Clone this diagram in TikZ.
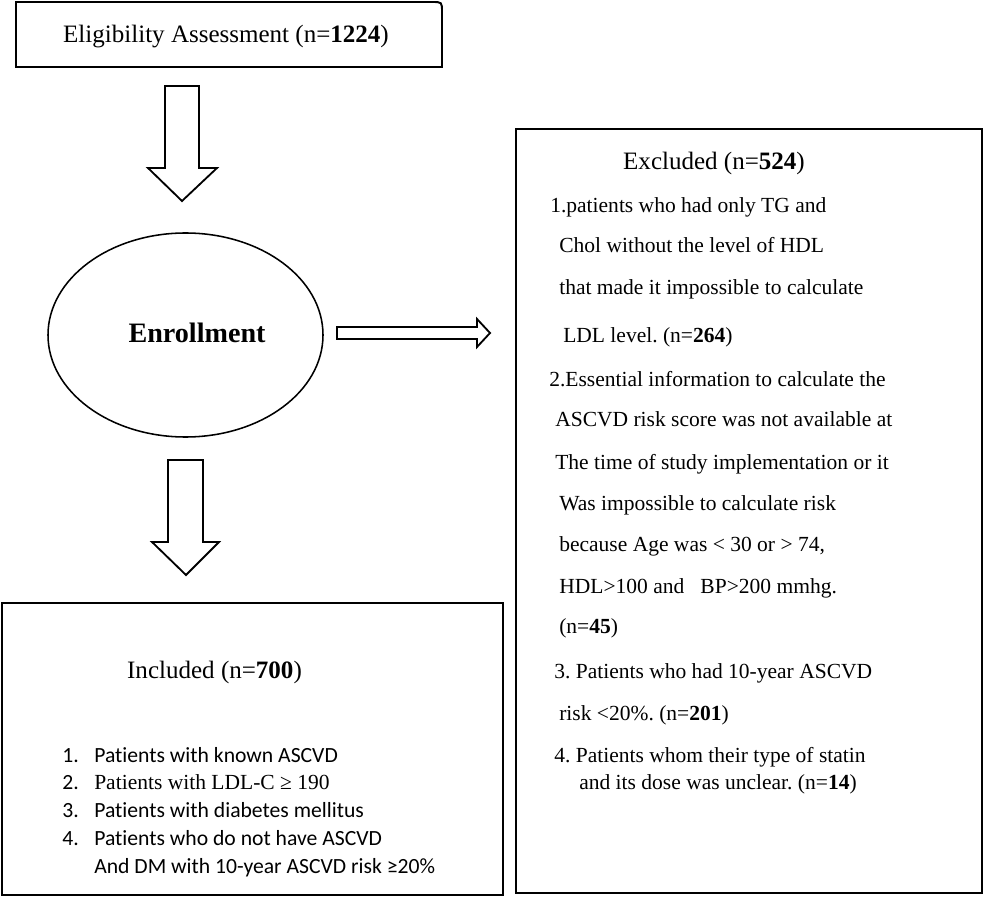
\documentclass[tikz,border=0pt]{standalone}
\usepackage{fontspec}
\setmainfont{Liberation Serif}
\newfontfamily\calibri[RawFeature={-liga;-clig;-dlig}]{Carlito}
\usetikzlibrary{shapes.geometric}
\frenchspacing

\newcommand\txtsize{\fontsize{15.3pt}{18pt}\selectfont}
\newcommand\headsize{\fontsize{17.8pt}{21pt}\selectfont}
\newcommand\listsize{\fontsize{15.4pt}{18pt}\selectfont}
\def\px{0.025cm}

\tikzset{
	boxline/.style={line width=1.4pt},
	blockarr/.style={line width=1.3pt, line join=miter},
	txt/.style={anchor=base west, inner sep=0pt, font=\txtsize},
	lst/.style={anchor=base west, inner sep=0pt, font=\calibri\listsize}
}

\begin{document}
\begin{tikzpicture}[x=0.025cm,y=-0.025cm]
	\useasboundingbox (0,0) rectangle (986,898);
	% top box, only one corner is rounded
	\node[anchor=base, inner sep=0pt, font=\headsize] (assess) at (226,43) {Eligibility Assessment (n=\textbf{1224})};
	\draw[boxline] (16,2) -- (432,2) .. controls (442,2) .. (442,12) -- (442,67) -- (16,67) -- cycle;
	% enrollment
	\node[ellipse, draw, line width=1.1pt, minimum width=275*\px, minimum height=204*\px, inner sep=0pt] (enrol) at (185.5,335) {};
	\node[anchor=base, inner sep=0pt, font=\fontsize{20pt}{24pt}\selectfont\bfseries] (enroltxt) at (197,343) {Enrollment};
	% the three big arrows
	\draw[blockarr] (165,86) -- (199,86) -- (199,168) -- (217,168) -- (182,201) -- (148,168) -- (165,168) -- cycle;
	\draw[blockarr] (337,327) -- (477,327) -- (477,319) -- (490,333) -- (477,347) -- (477,339) -- (337,339) -- cycle;
	\draw[blockarr] (168,460) -- (203,460) -- (203,542) -- (219,542) -- (186,575) -- (152,542) -- (168,542) -- cycle;
	% excluded
	\node[draw, boxline, minimum width=466*\px, minimum height=764*\px, inner sep=0pt] (excl) at (749,511) {};
	\node[anchor=base, inner sep=0pt, font=\headsize] (exhead) at (714,170) {Excluded (n=\textbf{524})};
	\node[txt] (ex1) at (550,213) {1.patients who had only TG and};
	\node[txt] (ex2) at (559,253) {Chol without the level of HDL};
	\node[txt] (ex3) at (559,295) {that made it impossible to calculate};
	\node[txt] (ex4) at (563,343) {LDL level. (n=\textbf{264})};
	\node[txt] (ex5) at (549,387) {2.Essential information to calculate the};
	\node[txt] (ex6) at (555,427) {ASCVD risk score was not available at};
	\node[txt] (ex7) at (555,469) {The time of study implementation or it};
	\node[txt] (ex8) at (559,510) {Was impossible to calculate risk};
	\node[txt] (ex9) at (559,551) {because Age was < 30 or > 74,};
	\node[txt] (ex10) at (559,593) {HDL>100 and\ \ \ BP>200 mmhg.};
	\node[txt] (ex11) at (559,633) {(n=\textbf{45})};
	\node[txt] (ex12) at (554,678) {3. Patients who had 10-year ASCVD};
	\node[txt] (ex13) at (559,720) {risk <20\%. (n=\textbf{201})};
	\node[txt] (ex14) at (554,762) {4. Patients whom their type of statin};
	\node[txt] (ex15) at (579,789) {and its dose was unclear. (n=\textbf{14})};
	% included
	\node[draw, boxline, minimum width=501*\px, minimum height=292*\px, inner sep=0pt] (incl) at (252.5,749) {};
	\node[anchor=base, inner sep=0pt, font=\headsize] (inhead) at (214.5,678) {Included (n=\textbf{700})};
	\node[lst] (n1) at (62,762) {1.};
	\node[lst] (in1) at (94,762) {Patients with known ASCVD};
	\node[lst] (n2) at (62,789) {2.};
	\node[txt] (in2) at (94,789) {Patients with LDL-C ≥ 190};
	\node[lst] (n3) at (62,817) {3.};
	\node[lst] (in3) at (94,817) {Patients with diabetes mellitus};
	\node[lst] (n4) at (62,845) {4.};
	\node[lst] (in4) at (94,845) {Patients who do not have ASCVD};
	\node[lst] (in5) at (94,873) {And DM with 10-year ASCVD risk ≥20\%};
\end{tikzpicture}
\end{document}
